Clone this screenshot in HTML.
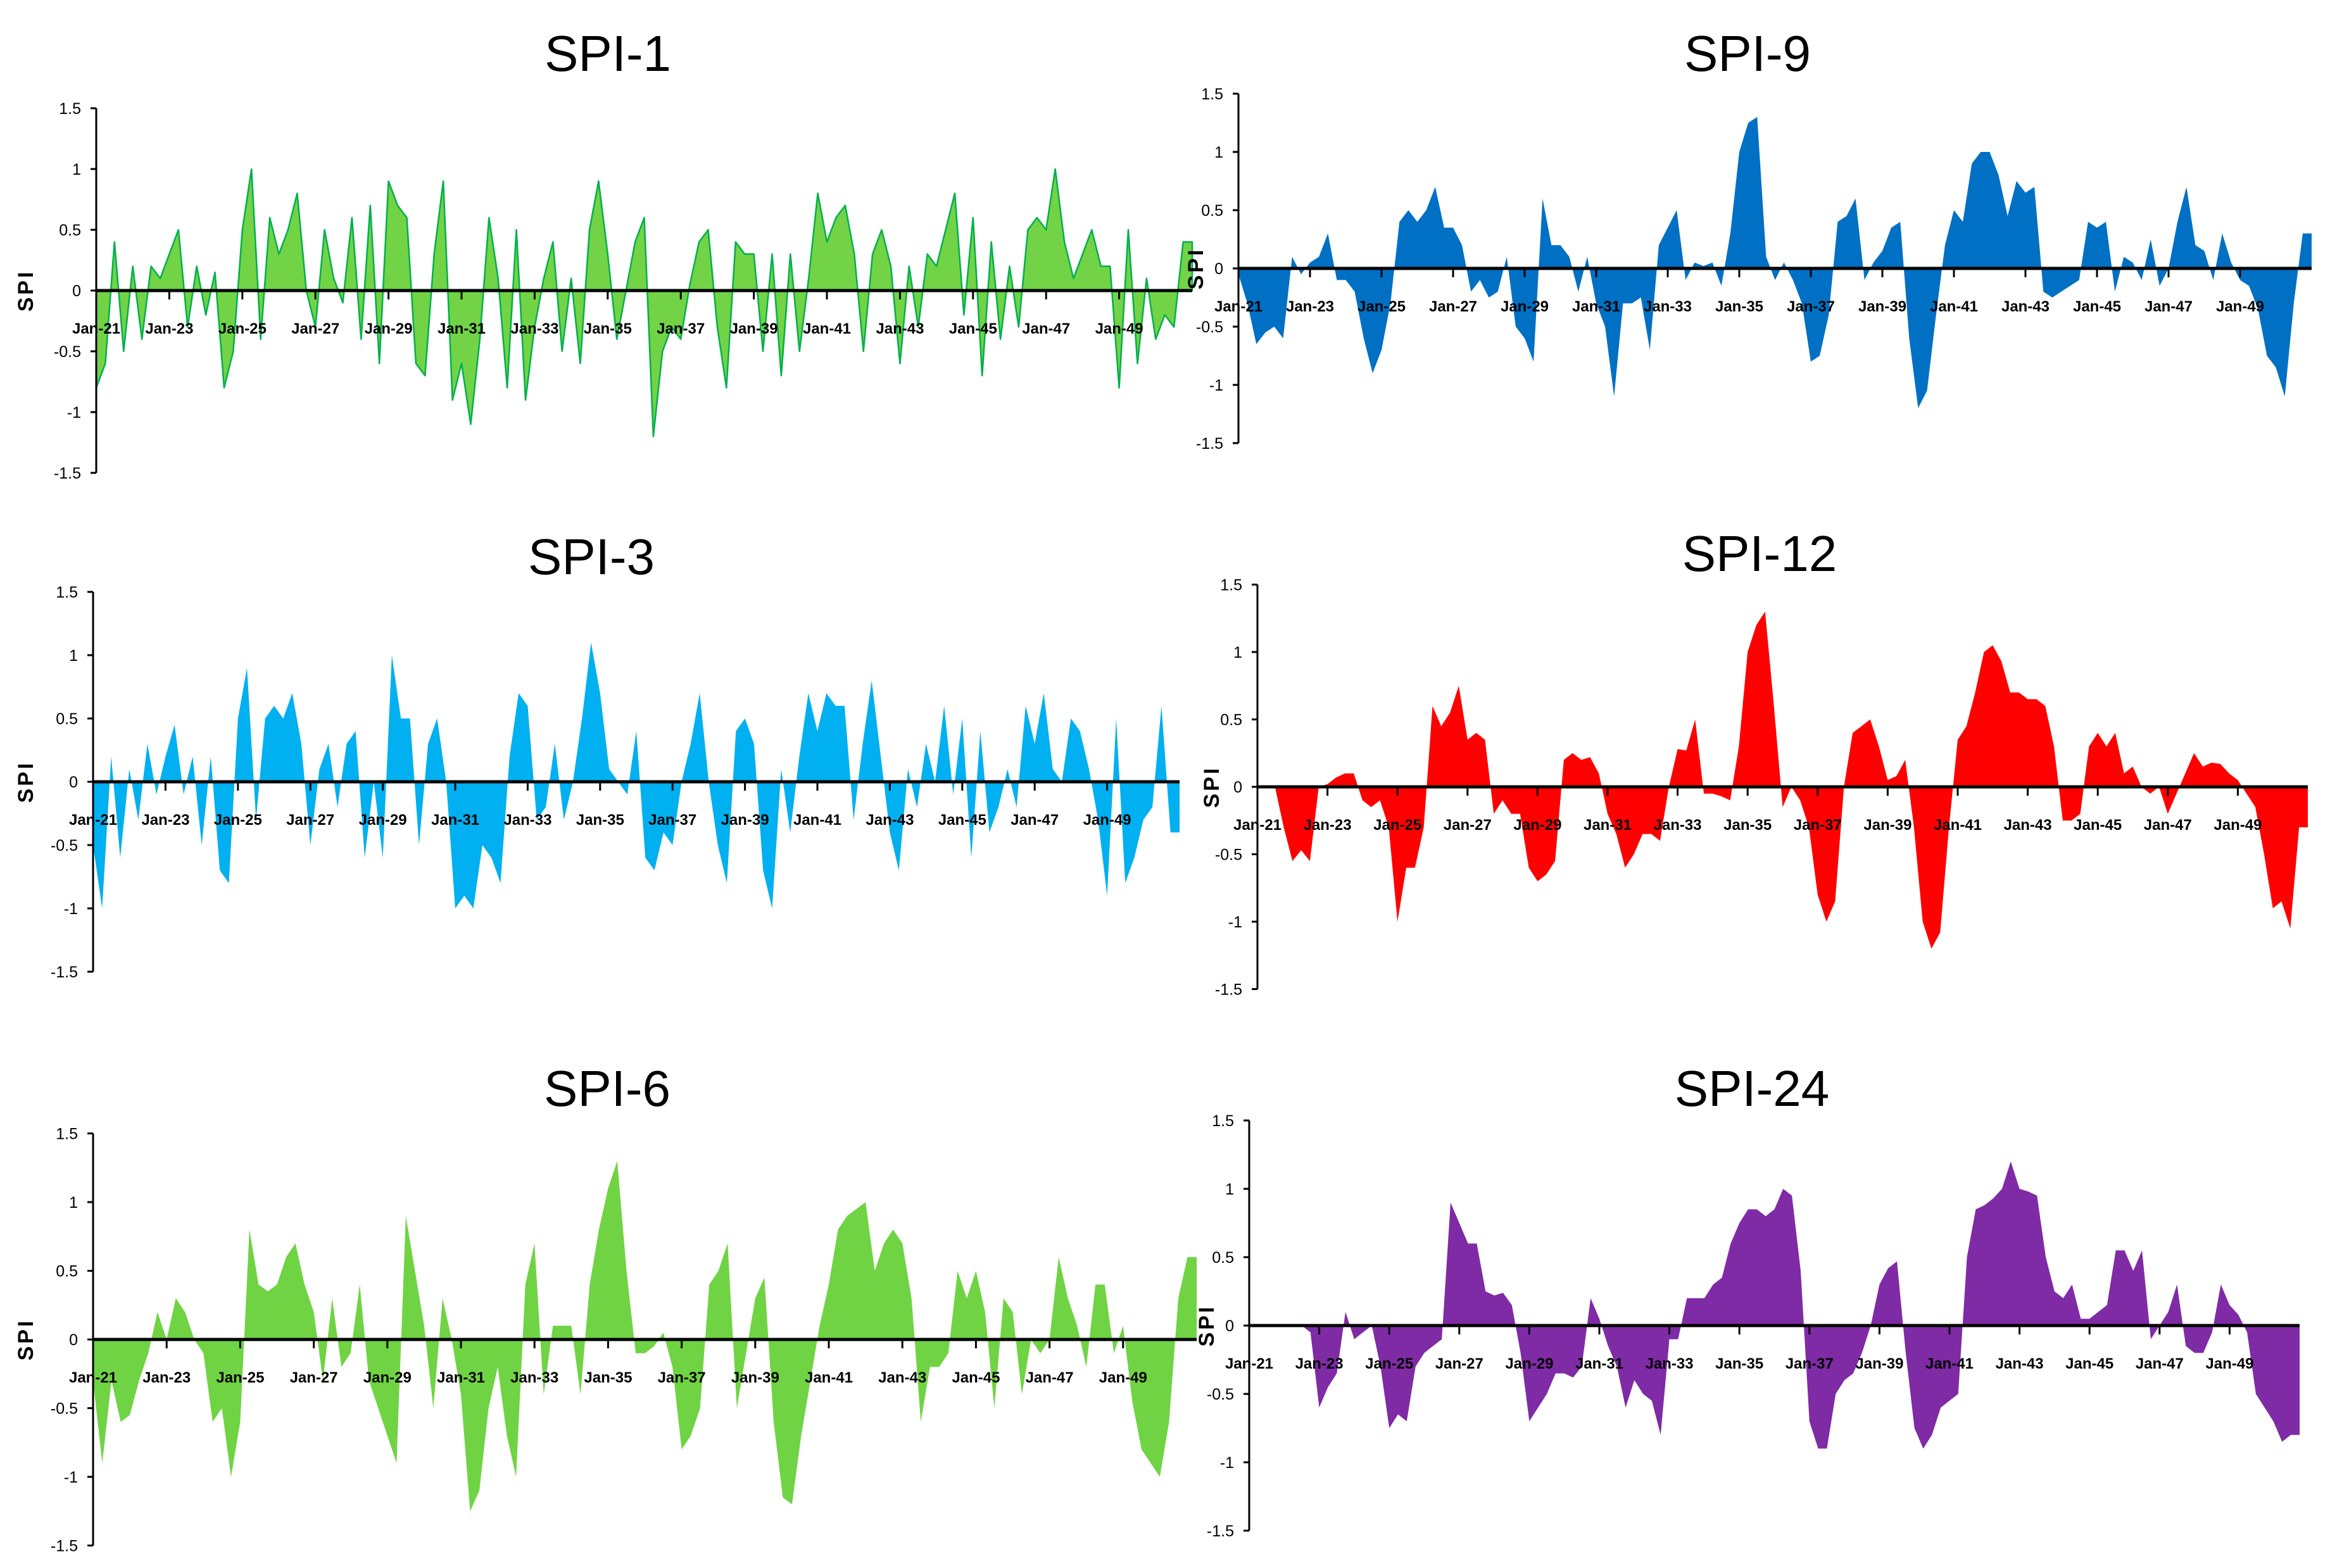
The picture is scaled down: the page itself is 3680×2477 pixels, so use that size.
<!DOCTYPE html>
<html><head><meta charset="utf-8"><style>
html,body{margin:0;padding:0;background:#fff;}
svg{display:block;font-family:"Liberation Sans",sans-serif;}
</style></head><body>
<svg id="root" width="3680" height="2477" viewBox="0 0 3680 2477" xmlns="http://www.w3.org/2000/svg"></svg>
<script>
const xTickLabels = ['Jan-21','Jan-23','Jan-25','Jan-27','Jan-29','Jan-31','Jan-33','Jan-35','Jan-37','Jan-39','Jan-41','Jan-43','Jan-45','Jan-47','Jan-49'];
const yTickValues = [-1.5,-1,-0.5,0,0.5,1,1.5];
const yTickLabels = ['-1.5','-1','-0.5','0','0.5','1','1.5'];
// quarterly SPI values, Jan-21 .. Oct-50
const spi1Values = [-0.8,-0.6,0.4,-0.5, 0.2,-0.4,0.2,0.1, 0.3,0.5,-0.3,0.2, -0.2,0.15,-0.8,-0.5, 0.5,1.0,-0.4,0.6, 0.3,0.5,0.8,0.0, -0.3,0.5,0.1,-0.1, 0.6,-0.4,0.7,-0.6, 0.9,0.7,0.6,-0.6, -0.7,0.3,0.9,-0.9, -0.6,-1.1,-0.4,0.6, 0.1,-0.8,0.5,-0.9, -0.3,0.1,0.4,-0.5, 0.1,-0.6,0.5,0.9, 0.3,-0.4,0.0,0.4, 0.6,-1.2,-0.5,-0.3, -0.4,0.05,0.4,0.5, -0.3,-0.8,0.4,0.3, 0.3,-0.5,0.3,-0.7, 0.3,-0.5,0.1,0.8, 0.4,0.6,0.7,0.3, -0.5,0.3,0.5,0.2, -0.6,0.2,-0.3,0.3, 0.2,0.5,0.8,-0.2, 0.6,-0.7,0.4,-0.4, 0.2,-0.3,0.5,0.6, 0.5,1.0,0.4,0.1, 0.3,0.5,0.2,0.2, -0.8,0.5,-0.6,0.1, -0.4,-0.2,-0.3,0.4];
const spi9Values = [-0.05,-0.3,-0.65,-0.55, -0.5,-0.6,0.1,-0.05, 0.05,0.1,0.3,-0.1, -0.1,-0.2,-0.6,-0.9, -0.7,-0.3,0.4,0.5, 0.4,0.5,0.7,0.35, 0.35,0.2,-0.2,-0.1, -0.25,-0.2,0.1,-0.5, -0.6,-0.8,0.6,0.2, 0.2,0.1,-0.2,0.1, -0.3,-0.5,-1.1,-0.3, -0.3,-0.25,-0.7,0.2, 0.35,0.5,-0.1,0.05, 0.02,0.05,-0.15,0.3, 1.0,1.25,1.3,0.1, -0.1,0.05,-0.1,-0.3, -0.8,-0.75,-0.4,0.4, 0.45,0.6,-0.1,0.05, 0.15,0.35,0.4,-0.6, -1.2,-1.05,-0.4,0.2, 0.5,0.4,0.9,1.0, 1.0,0.8,0.45,0.75, 0.65,0.7,-0.2,-0.25, -0.2,-0.15,-0.1,0.4, 0.35,0.4,-0.2,0.1, 0.05,-0.1,0.25,-0.15, 0.0,0.4,0.7,0.2, 0.15,-0.1,0.3,0.05, -0.1,-0.15,-0.35,-0.75, -0.85,-1.1,-0.3,0.3];
const spi3Values = [-0.5,-1.0,0.2,-0.6, 0.1,-0.3,0.3,-0.1, 0.2,0.45,-0.1,0.2, -0.5,0.2,-0.7,-0.8, 0.5,0.9,-0.3,0.5, 0.6,0.5,0.7,0.3, -0.5,0.1,0.3,-0.2, 0.3,0.4,-0.6,0.0, -0.6,1.0,0.5,0.5, -0.5,0.3,0.5,0.0, -1.0,-0.9,-1.0,-0.5, -0.6,-0.8,0.2,0.7, 0.6,-0.3,-0.2,0.3, -0.3,0.0,0.5,1.1, 0.7,0.1,0.0,-0.1, 0.4,-0.6,-0.7,-0.4, -0.5,0.0,0.3,0.7, 0.0,-0.5,-0.8,0.4, 0.5,0.3,-0.7,-1.0, 0.1,-0.4,0.2,0.7, 0.4,0.7,0.6,0.6, -0.3,0.3,0.8,0.2, -0.4,-0.7,0.1,-0.2, 0.3,0.0,0.6,-0.1, 0.5,-0.6,0.4,-0.4, -0.2,0.1,-0.2,0.6, 0.3,0.7,0.1,0.0, 0.5,0.4,0.1,-0.3, -0.9,0.5,-0.8,-0.6, -0.3,-0.2,0.6,-0.4];
const spi12Values = [0,0,0,-0.3, -0.55,-0.47,-0.55,0.0, 0.02,0.07,0.1,0.1, -0.1,-0.15,-0.1,-0.3, -1.0,-0.6,-0.6,-0.3, 0.6,0.45,0.55,0.75, 0.35,0.4,0.35,-0.2, -0.1,-0.2,-0.2,-0.6, -0.7,-0.65,-0.55,0.2, 0.25,0.2,0.22,0.1, -0.2,-0.35,-0.6,-0.5, -0.35,-0.35,-0.4,0.0, 0.28,0.27,0.5,-0.05, -0.05,-0.07,-0.1,0.3, 1.0,1.2,1.3,0.6, -0.15,0.0,-0.1,-0.3, -0.8,-1.0,-0.85,0.0, 0.4,0.45,0.5,0.3, 0.05,0.08,0.2,-0.3, -1.0,-1.2,-1.08,-0.3, 0.35,0.45,0.7,1.0, 1.05,0.93,0.7,0.7, 0.65,0.65,0.6,0.3, -0.25,-0.25,-0.2,0.3, 0.4,0.3,0.4,0.1, 0.15,0.0,-0.05,0.0, -0.2,-0.05,0.1,0.25, 0.15,0.18,0.17,0.1, 0.05,-0.05,-0.15,-0.5, -0.9,-0.85,-1.05,-0.3];
const spi6Values = [-0.3,-0.9,-0.3,-0.6, -0.55,-0.3,-0.1,0.2, 0.0,0.3,0.2,0.0, -0.1,-0.6,-0.5,-1.0, -0.6,0.8,0.4,0.35, 0.4,0.6,0.7,0.4, 0.2,-0.3,0.3,-0.2, -0.1,0.4,-0.3,-0.5, -0.7,-0.9,0.9,0.5, 0.1,-0.5,0.3,0.0, -0.4,-1.25,-1.1,-0.5, -0.2,-0.7,-1.0,0.4, 0.7,-0.4,0.1,0.1, 0.1,-0.4,0.4,0.8, 1.1,1.3,0.5,-0.1, -0.1,-0.05,0.05,-0.2, -0.8,-0.7,-0.5,0.4, 0.5,0.7,-0.5,-0.1, 0.3,0.45,-0.6,-1.15, -1.2,-0.7,-0.3,0.1, 0.4,0.8,0.9,0.95, 1.0,0.5,0.7,0.8, 0.7,0.3,-0.6,-0.2, -0.2,-0.1,0.5,0.3, 0.5,0.2,-0.5,0.3, 0.2,-0.4,0.0,-0.1, 0.0,0.6,0.3,0.1, -0.2,0.4,0.4,-0.1, 0.1,-0.45,-0.8,-0.9, -1.0,-0.6,0.3,0.6];
const spi24Values = [0,0,0,0, 0,0,0,-0.05, -0.6,-0.45,-0.35,0.1, -0.1,-0.05,0.0,-0.3, -0.75,-0.65,-0.7,-0.3, -0.2,-0.15,-0.1,0.9, 0.75,0.6,0.6,0.25, 0.22,0.24,0.15,-0.2, -0.7,-0.6,-0.5,-0.35, -0.35,-0.38,-0.3,0.2, 0.05,-0.15,-0.3,-0.6, -0.4,-0.5,-0.55,-0.8, -0.1,-0.1,0.2,0.2, 0.2,0.3,0.35,0.6, 0.75,0.85,0.85,0.8, 0.85,1.0,0.95,0.4, -0.7,-0.9,-0.9,-0.5, -0.4,-0.35,-0.2,0.0, 0.3,0.42,0.47,-0.2, -0.75,-0.9,-0.8,-0.6, -0.55,-0.5,0.5,0.85, 0.88,0.93,1.0,1.2, 1.0,0.98,0.95,0.5, 0.25,0.2,0.3,0.05, 0.05,0.1,0.15,0.55, 0.55,0.4,0.55,-0.1, 0.0,0.1,0.3,-0.15, -0.2,-0.2,-0.05,0.3, 0.15,0.08,-0.05,-0.5, -0.6,-0.7,-0.85,-0.8];

const NS = 'http://www.w3.org/2000/svg';
const root = document.getElementById('root');
function mk(tag, attrs, parent) {
  const e = document.createElementNS(NS, tag);
  for (const k in attrs) e.setAttribute(k, attrs[k]);
  parent.appendChild(e);
  return e;
}
const charts = [
  {key:'spi-1', title:'SPI-1', vals:spi1Values, ax:152, zero:459, unit:192, py:57.7, tx:960, ty:83, fill:'#72d346', stroke:'#00b04c', lx:40},
  {key:'spi-9', title:'SPI-9', vals:spi9Values, ax:1956, zero:424, unit:184, py:56.5, tx:2760, ty:83, fill:'#0070c4', stroke:null, lx:1888},
  {key:'spi-3', title:'SPI-3', vals:spi3Values, ax:147, zero:1235, unit:200, py:57.2, tx:934, ty:878, fill:'#00b0f0', stroke:null, lx:40},
  {key:'spi-12', title:'SPI-12', vals:spi12Values, ax:1986, zero:1243, unit:213, py:55.3, tx:2779, ty:873, fill:'#ff0000', stroke:null, lx:1913},
  {key:'spi-6', title:'SPI-6', vals:spi6Values, ax:147, zero:2116, unit:217, py:58.1, tx:959, ty:1718, fill:'#70d344', stroke:null, lx:40},
  {key:'spi-24', title:'SPI-24', vals:spi24Values, ax:1973, zero:2094, unit:216, py:55.3, tx:2767, ty:1718, fill:'#7f2ba5', stroke:null, lx:1905}
];
charts.forEach(c => {
  const g = mk('g', {}, root);
  
  
  const xs = t => c.ax + t * c.py;
  const ys = v => c.zero - v * c.unit;
  const title = mk('text', {x:c.tx, y:c.ty + 29, 'text-anchor':'middle', 'font-size':80, fill:'#000'}, g);
  title.textContent = c.title;
  
  
  let d = 'M' + xs(0) + ',' + ys(0);
  c.vals.forEach((v, i) => { d += ' L' + xs(i / 4).toFixed(1) + ',' + ys(v).toFixed(1); });
  d += ' L' + xs(c.vals.length / 4).toFixed(1) + ',' + ys(c.vals[c.vals.length - 1]).toFixed(1);
  d += ' L' + xs(c.vals.length / 4).toFixed(1) + ',' + ys(0) + ' Z';
  const area = mk('path', {d:d, fill:c.fill}, g);
  if (c.stroke) { area.setAttribute('stroke', c.stroke); area.setAttribute('stroke-width', '2.5'); area.setAttribute('stroke-linejoin', 'round'); }
  
  
  const yAxis = mk('line', {x1:c.ax, y1:ys(1.5), x2:c.ax, y2:ys(-1.5), stroke:'#000', 'stroke-width':3}, g);
  
  
  yTickValues.forEach((v, i) => {
    mk('line', {x1:c.ax - 9, y1:ys(v), x2:c.ax, y2:ys(v), stroke:'#000', 'stroke-width':3}, g);
    const t = mk('text', {x:c.ax - 24, y:ys(v) + 9, 'text-anchor':'end', 'font-size':25, fill:'#000'}, g);
    t.textContent = yTickLabels[i];
    
    
  });
  const zl = mk('line', {x1:c.ax, y1:ys(0), x2:xs(c.vals.length / 4), y2:ys(0), stroke:'#000', 'stroke-width':5}, g);
  
  
  xTickLabels.forEach((lab, i) => {
    const x = xs(i * 2);
    mk('line', {x1:x, y1:ys(0), x2:x, y2:ys(0) + 14, stroke:'#000', 'stroke-width':3}, g);
    const t = mk('text', {x:x, y:ys(0) + 68, 'text-anchor':'middle', 'font-size':24, 'font-weight':'bold', fill:'#000'}, g);
    t.textContent = lab;
    
    
  });
  const yl = mk('text', {x:0, y:0, transform:'translate(' + (c.lx + 12) + ',' + ys(0) + ') rotate(-90)', 'text-anchor':'middle', 'font-size':34, 'font-weight':'bold', 'letter-spacing':4, fill:'#000'}, g);
  yl.textContent = 'SPI';
  
  
});
</script>
</body></html>
